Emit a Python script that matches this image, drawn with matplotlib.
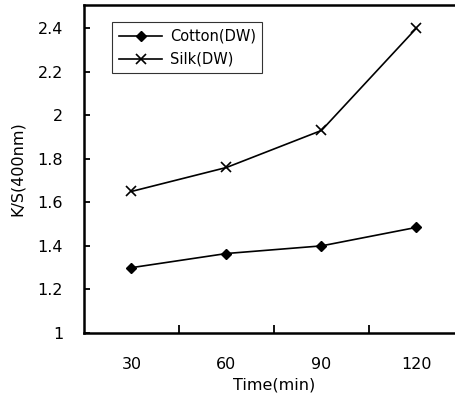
import matplotlib
matplotlib.use("Agg")
import matplotlib.pyplot as plt

times = ["30", "60", "90", "120"]
cotton = [1.30, 1.365, 1.40, 1.485]
silk = [1.65, 1.76, 1.93, 2.40]
yticks = [1, 1.2, 1.4, 1.6, 1.8, 2, 2.2, 2.4]

plt.rcParams["font.family"] = ["DejaVu Sans"]

W, H = 456, 399
fig = plt.figure(figsize=(W / 100, H / 100), dpi=100)
# axes runs past the right edge (cropped like the original)
ax = fig.add_axes([84 / W, 1 - 333 / H, 380 / W, 328 / H])

x = list(range(len(times)))
ax.plot(x, cotton, color="black", lw=1.2, marker="D", ms=5, label="Cotton(DW)")
ax.plot(x, silk, color="black", lw=1.2, marker="x", ms=7, mew=1.2, label="Silk(DW)")

ax.set_xlim(-0.5, 3.5)
ax.set_ylim(1, 2.506)

ax.set_yticks(yticks)
ax.set_yticklabels(["1", "1.2", "1.4", "1.6", "1.8", "2", "2.2", "2.4"])
ax.tick_params(axis="y", direction="in", length=4, width=1.3, labelsize=11.5, pad=15)

ax.set_xticks([0.5, 1.5, 2.5])
ax.set_xticklabels([])
ax.set_xticks(x, minor=True)
ax.set_xticklabels(times, minor=True)
ax.tick_params(axis="x", which="major", direction="in", length=6, width=1.3)
ax.tick_params(axis="x", which="minor", length=0, labelsize=11.5, pad=17)

for s in ax.spines.values():
    s.set_linewidth(1.8)
ax.spines["right"].set_visible(False)

ax.set_xlabel("Time(min)", fontsize=11.5, labelpad=4)
ax.set_ylabel("K/S(400nm)", fontsize=11.5, labelpad=9)

leg = ax.legend(loc="upper left", bbox_to_anchor=(0.074, 0.948), borderaxespad=0,
                fontsize=10.5, frameon=True, fancybox=False, edgecolor="black",
                handlelength=3.0, borderpad=0.45, labelspacing=0.55, handletextpad=0.5)
leg.get_frame().set_linewidth(0.8)

fig.savefig("out.png", dpi=100)
